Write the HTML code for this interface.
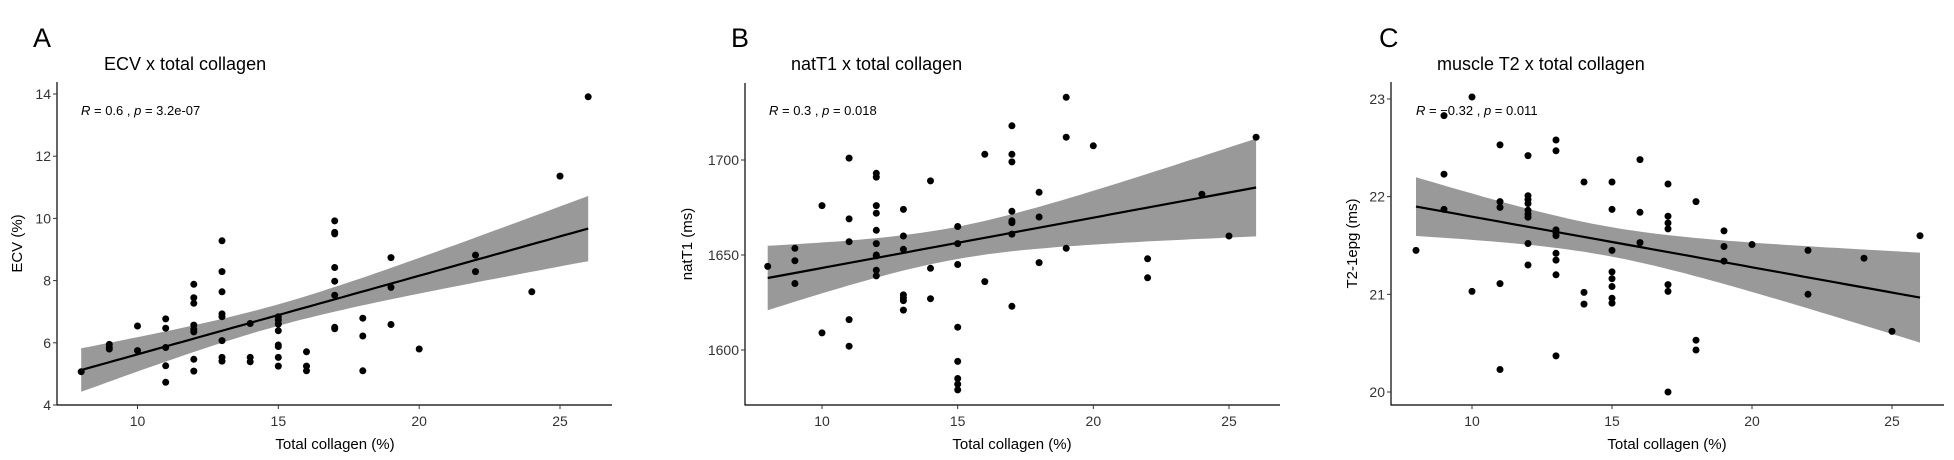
<!DOCTYPE html>
<html><head><meta charset="utf-8"><style>
html,body{margin:0;padding:0;background:#fff;}
svg{display:block;font-family:"Liberation Sans",Arial,sans-serif;}
</style></head><body>
<svg id="fig" width="1954" height="460" viewBox="0 0 1954 460"></svg>
<script>
// Panel A data: ECV vs total collagen
const aX = [8,9,9,9,10,10,11,11,11,11,11,12,12,12,12,12,12,12,12,13,13,13,13,13,13,13,13,14,14,14,15,15,15,15,15,15,15,15,16,16,16,17,17,17,17,17,17,17,17,18,18,18,19,19,19,20,22,22,24,25,26];
const aY = [5.07,5.95,5.85,5.8,6.54,5.75,6.77,6.47,5.85,5.26,4.73,7.88,7.45,7.27,6.57,6.43,6.35,5.47,5.09,9.28,8.29,7.64,6.93,6.84,6.07,5.53,5.41,6.62,5.53,5.39,6.84,6.73,6.6,6.39,5.93,5.88,5.53,5.25,5.71,5.25,5.1,9.92,9.55,9.5,8.42,7.98,7.53,6.5,6.45,6.79,6.22,5.1,8.74,7.78,6.59,5.8,8.82,8.29,7.64,11.36,13.91];
// Panel B data: natT1 vs total collagen
const bX = [8,9,9,9,10,10,11,11,11,11,11,12,12,12,12,12,12,12,12,12,12,13,13,13,13,13,13,13,14,14,14,15,15,15,15,15,15,15,15,16,16,17,17,17,17,17,17,17,17,18,18,18,19,19,19,20,22,22,24,25,26];
const bY = [1644,1653.5,1647,1635,1676,1609,1701,1669,1657,1616,1602,1693,1691,1676,1672,1663,1656,1650,1649.5,1642,1639,1674,1660,1653,1629,1627.5,1626,1621,1689,1643,1627,1665,1656,1645,1612,1594,1585,1582,1579,1703,1636,1718,1703,1699,1673,1668,1667,1661,1623,1683,1670,1646,1733,1712,1653.5,1707.5,1648,1638,1682,1660,1712];
// Panel C data: muscle T2 vs total collagen
const cX = [8,9,9,9,10,10,11,11,11,11,11,12,12,12,12,12,12,12,12,12,13,13,13,13,13,13,13,13,13,14,14,14,15,15,15,15,15,15,15,15,16,16,16,17,17,17,17,17,17,17,18,18,18,19,19,19,20,22,22,24,25,26];
const cY = [21.45,22.83,22.23,21.87,23.02,21.03,22.53,21.95,21.89,21.11,20.23,22.42,22.01,21.97,21.93,21.86,21.82,21.79,21.52,21.3,22.58,22.47,21.66,21.63,21.6,21.42,21.35,21.2,20.37,22.15,21.02,20.9,22.15,21.87,21.45,21.23,21.16,21.08,20.96,20.91,22.38,21.84,21.53,22.13,21.8,21.73,21.67,21.1,21.03,20.0,21.95,20.53,20.43,21.65,21.49,21.34,21.51,21.45,21.0,21.37,20.62,21.6];
const xTicks = [10,15,20,25];
const aTicks = [4,6,8,10,12,14];
const bTicks = [1600,1650,1700];
const cTicks = [20,21,22,23];

const NS = "http://www.w3.org/2000/svg";
const svg = document.getElementById('fig');
function mk(tag, attrs, parent){
  const e = document.createElementNS(NS, tag);
  for (const k in attrs) e.setAttribute(k, attrs[k]);
  (parent||svg).appendChild(e);
  return e;
}
const panels = [
  {id:'a', letter:'A', title:'ECV x total collagen', ylab:'ECV (%)', ann:['0.6','3.2e-07'],
   xs:aX, ys:aY, ticks:aTicks, ax:57, top:82, bottom:405, right:612, x10:137.5, x25:560, yv0:4, yp0:405, yv1:14, yp1:94,
   letterX:33, titleX:104, annX:81, ylabX:17, xlabX:335},
  {id:'b', letter:'B', title:'natT1 x total collagen', ylab:'natT1 (ms)', ann:['0.3','0.018'],
   xs:bX, ys:bY, ticks:bTicks, ax:745, top:83, bottom:405, right:1280, x10:822, x25:1229, yv0:1600, yp0:350, yv1:1700, yp1:160,
   letterX:731, titleX:791, annX:769, ylabX:687, xlabX:1012},
  {id:'c', letter:'C', title:'muscle T2 x total collagen', ylab:'T2-1epg (ms)', ann:['\u22120.32','0.011'],
   xs:cX, ys:cY, ticks:cTicks, ax:1391, top:82, bottom:405, right:1944, x10:1472, x25:1892, yv0:20, yp0:392, yv1:23, yp1:99,
   letterX:1379, titleX:1437, annX:1416, ylabX:1352, xlabX:1667}
];
panels.forEach(p=>{
  const g = mk('g',{});
  
  
  const sx = v => p.x10 + (v-10)*(p.x25-p.x10)/15;
  const sy = v => p.yp0 + (v-p.yv0)*(p.yp1-p.yp0)/(p.yv1-p.yv0);
  const n = p.xs.length;
  const mx = p.xs.reduce((s,v)=>s+v,0)/n, my = p.ys.reduce((s,v)=>s+v,0)/n;
  let sxx=0, sxy=0;
  for (let i=0;i<n;i++){ sxx+=(p.xs[i]-mx)**2; sxy+=(p.xs[i]-mx)*(p.ys[i]-my); }
  const b = sxy/sxx, a0 = my - b*mx;
  let sse=0; for (let i=0;i<n;i++) sse += (p.ys[i]-a0-b*p.xs[i])**2;
  const s = Math.sqrt(sse/(n-2)), t=2.0;
  const xmin = Math.min(...p.xs), xmax = Math.max(...p.xs);
  const up=[], lo=[], ln=[];
  for (let k=0;k<=60;k++){
    const x = xmin + (xmax-xmin)*k/60;
    const f = a0 + b*x, se = s*Math.sqrt(1/n + (x-mx)**2/sxx);
    up.push(sx(x).toFixed(1)+','+sy(f+t*se).toFixed(1));
    lo.unshift(sx(x).toFixed(1)+','+sy(f-t*se).toFixed(1));
    ln.push(sx(x).toFixed(1)+','+sy(f).toFixed(1));
  }
  const band = mk('polygon',{points:up.concat(lo).join(' '), fill:'#999999'}, g);
  
  
  for (let i=0;i<n;i++){
    const c = mk('circle',{cx:sx(p.xs[i]).toFixed(1), cy:sy(p.ys[i]).toFixed(1), r:3.5, fill:'#000'}, g);
    
    
  }
  const fl = mk('polyline',{points:ln.join(' '), fill:'none', stroke:'#000', 'stroke-width':2.2}, g);
  
  
  const yl = mk('line',{x1:p.ax, y1:p.top, x2:p.ax, y2:p.bottom+0.5, stroke:'#000','stroke-width':1.2}, g);
  
  
  const xl = mk('line',{x1:p.ax-0.5, y1:p.bottom, x2:p.right, y2:p.bottom, stroke:'#000','stroke-width':1.2}, g);
  
  
  p.ticks.forEach(v=>{
    mk('line',{x1:p.ax-4, y1:sy(v), x2:p.ax, y2:sy(v), stroke:'#333','stroke-width':1}, g);
    const tx = mk('text',{x:p.ax-6, y:sy(v)+5, 'text-anchor':'end', 'font-size':14, fill:'#333'}, g);
    tx.textContent = v;
    
    
  });
  xTicks.forEach(v=>{
    mk('line',{x1:sx(v), y1:p.bottom, x2:sx(v), y2:p.bottom+4, stroke:'#333','stroke-width':1}, g);
    const tx = mk('text',{x:sx(v), y:426, 'text-anchor':'middle', 'font-size':14, fill:'#333'}, g);
    tx.textContent = v;
    
    
  });
  const xt = mk('text',{x:p.xlabX, y:449, 'text-anchor':'middle', 'font-size':15, fill:'#000'}, g);
  xt.textContent = 'Total collagen (%)';
  
  
  const yc = (p.top+p.bottom)/2;
  const yt = mk('text',{x:p.ylabX, y:yc, 'text-anchor':'middle', 'font-size':15, fill:'#000', transform:'rotate(-90 '+p.ylabX+' '+yc+')', dy:5}, g);
  yt.textContent = p.ylab;
  
  
  const ti = mk('text',{x:p.titleX, y:70, 'font-size':18, fill:'#000'}, g);
  ti.textContent = p.title;
  
  
  const le = mk('text',{x:p.letterX, y:47, 'font-size':27, fill:'#000'}, g);
  le.textContent = p.letter;
  
  
  const an = mk('text',{x:p.annX, y:115, 'font-size':13, fill:'#000'}, g);
  an.innerHTML = '<tspan font-style="italic">R</tspan> = '+p.ann[0]+' , <tspan font-style="italic">p</tspan> = '+p.ann[1];
  
  
});
</script>
</body></html>
